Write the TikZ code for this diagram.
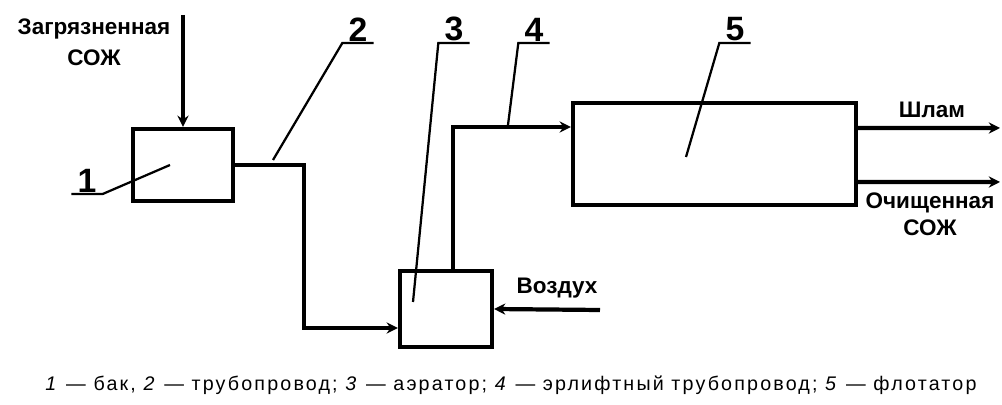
\documentclass[tikz,border=0pt]{standalone}
\usepackage{fontspec}
\setmainfont{Liberation Sans}
\newfontfamily\legendfont[LetterSpace=11]{Liberation Sans}
\usetikzlibrary{arrows.meta}

\tikzset{
  box/.style={draw, line width=3pt, inner sep=0pt},
  pipe/.style={line width=3pt, -{Stealth[length=8pt,width=8pt]}},
  leader/.style={line width=1.6pt},
  num/.style={font=\fontsize{24}{26}\selectfont\bfseries, inner xsep=0.15cm, inner ysep=1pt, anchor=south},
  flow/.style={font=\fontsize{16}{19}\selectfont\bfseries, align=center}
}

\begin{document}
\begin{tikzpicture}[x=0.025cm,y=-0.025cm]
			\useasboundingbox (0,0) rectangle (1002,405);
			
			% Boxes
			\node[box, minimum width=2.5cm, minimum height=1.8cm] (tank) at (183,165) {};
			\node[box, minimum width=2.3cm, minimum height=1.9cm] (aerator) at (446,309) {};
			\node[box, minimum width=7.075cm, minimum height=2.55cm] (flotator) at (714.5,154) {};
			
			% Flows
			\coordinate (feed) at (183,15);
			\coordinate (air) at (600,310);
			\coordinate (sludge) at (1000,128);
			\coordinate (clean) at (1000,182);
			\draw[pipe] (feed) -- (tank.north);
			\draw[pipe] (tank.east) -- (304,165) |- ([yshift=-0.475cm]aerator.west);
			\draw[pipe] ([xshift=0.175cm]aerator.north) |- ([yshift=0.675cm]flotator.west);
			\draw[pipe] (air) -- (aerator.east);
			\draw[pipe] ([yshift=0.65cm]flotator.east) -- (sludge);
			\draw[pipe] ([yshift=-0.7cm]flotator.east) -- (clean);
			
			\node[flow] (dirty) at (94,42) {Загрязненная\\[3pt]СОЖ};
			\node[flow] (sludgetext) at (932,110) {Шлам};
			\node[flow] (cleantext) at (930,214) {Очищенная\\СОЖ};
			\node[flow] (airtext) at (557,288) {Воздух};
			
			% Position numbers
			\coordinate (p1) at (170,165);
			\coordinate (p2) at (273,160);
			\coordinate (p3) at (413,302);
			\coordinate (p4) at (508,125);
			\coordinate (p5) at (686,157);
			\node[num] (n1) at (87,194) {1};
			\node[num] (n2) at (358,43) {2};
			\node[num] (n3) at (454,43) {3};
			\node[num] (n4) at (534,43) {4};
			\node[num] (n5) at (735,43) {5};
			\draw[leader] (n1.south west) -- (n1.south east) -- (p1);
			\draw[leader] (n2.south east) -- (n2.south west) -- (p2);
			\draw[leader] (n3.south east) -- (n3.south west) -- (p3);
			\draw[leader] (n4.south east) -- (n4.south west) -- (p4);
			\draw[leader] (n5.south east) -- (n5.south west) -- (p5);
			
			% Legend
			\node[font=\legendfont\fontsize{14}{16}\selectfont] (legend) at (511,385) {\textit{1} — бак, \textit{2} — трубопровод; \textit{3} — аэратор; \textit{4} — эрлифтный трубопровод; \textit{5} — флотатор};
\end{tikzpicture}
\end{document}
